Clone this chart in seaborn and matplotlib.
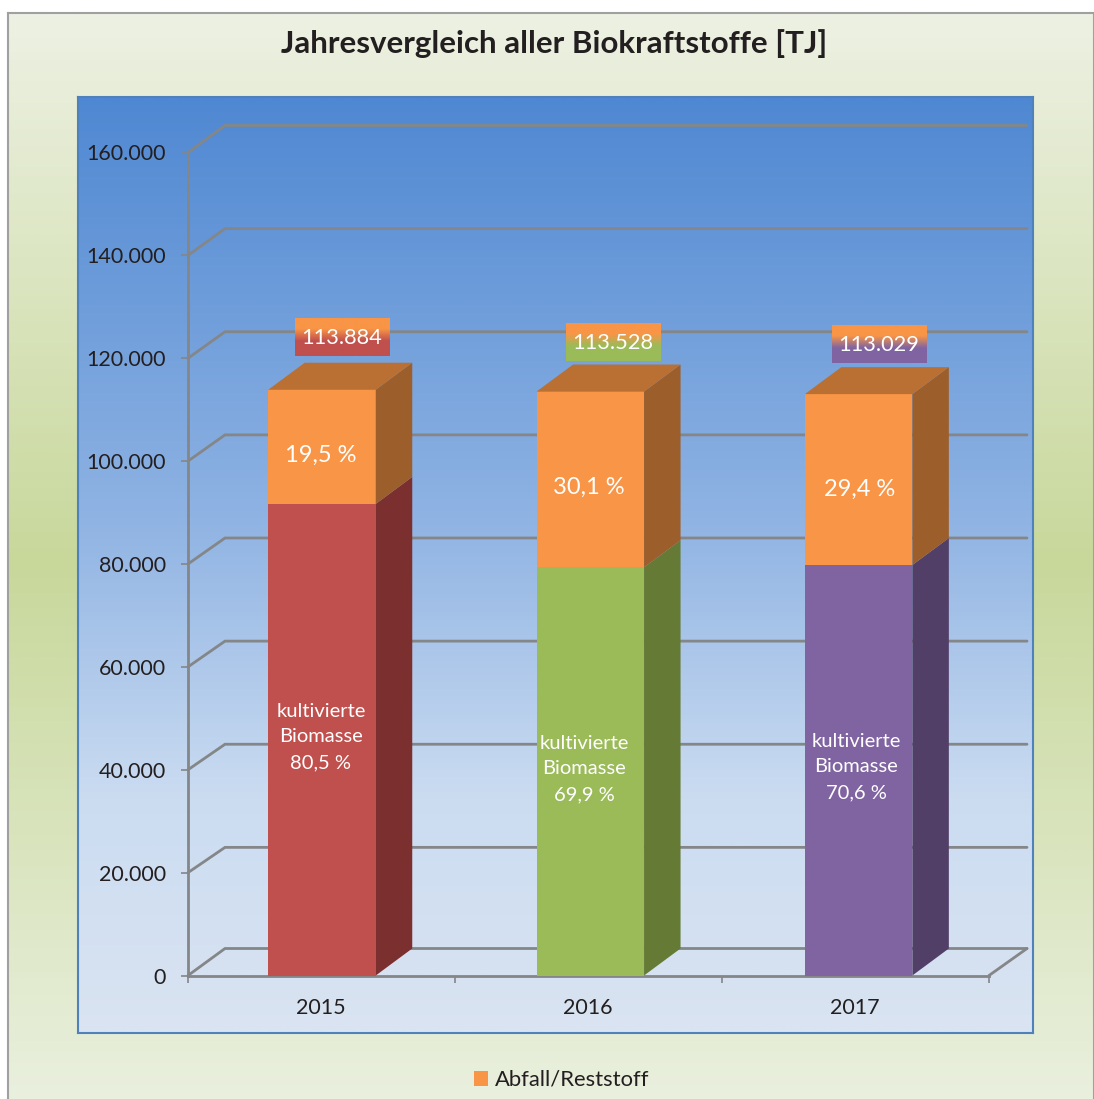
import numpy as np
import pandas as pd
import matplotlib
matplotlib.use("Agg")
import matplotlib.pyplot as plt
from matplotlib.colors import LinearSegmentedColormap
from matplotlib.patches import Patch
import seaborn as sns

# ---- data ----
years = ["2015", "2016", "2017"]
totals = [113884, 113528, 113029]
cultivated = [91680, 79360, 79800]
cultivated_pct = ["80,5 %", "69,9 %", "70,6 %"]
waste_pct = ["19,5 %", "30,1 %", "29,4 %"]
total_labels = ["113.884", "113.528", "113.029"]
y_ticks = [0, 20000, 40000, 60000, 80000, 100000, 120000, 140000, 160000]
y_tick_labels = ["0", "20.000", "40.000", "60.000", "80.000", "100.000", "120.000", "140.000", "160.000"]
title = "Jahresvergleich aller Biokraftstoffe [TJ]"
legend_label = "Abfall/Reststoff"

# ---- styles ----
W, H = 1094, 1099
sns.set_theme(style="white")
FONT = ["Lato", "DejaVu Sans"]
plt.rcParams["font.family"] = FONT
INK = "#231F20"
GRID = "#848688"
ORANGE = "#F99546"
ORANGE_TOP = "#BA7032"
ORANGE_SIDE = "#9C5E2A"
FRONT = ["#C0504D", "#9BBB59", "#8064A2"]
SIDE = ["#7B2F2E", "#647A35", "#523F68"]

fig = plt.figure(figsize=(W / 100, H / 100), dpi=100, facecolor="white")


def px_axes(x0, y0, x1, y1, **kw):
    return fig.add_axes([x0 / W, 1 - y1 / H, (x1 - x0) / W, (y1 - y0) / H], **kw)


def vgrad(ax, stops):
    cmap = LinearSegmentedColormap.from_list("g", stops)
    ax.imshow(np.linspace(0, 1, 512)[:, None], cmap=cmap, vmin=0, vmax=1,
              aspect="auto", extent=(0, 1, 0, 1), origin="upper")
    ax.set_xticks([])
    ax.set_yticks([])


def px_text(x, y, s, **kw):
    return fig.text(x / W, 1 - y / H, s, ha="center", va="center", zorder=20, **kw)


# outer chart area
bg = px_axes(8, 13, 1094, 1110, zorder=0)
vgrad(bg, [(0.0, "#EDF1E3"), (0.5, "#C8D89B"), (1.0, "#EAF0DF")])
for sp in bg.spines.values():
    sp.set_color("#A0A0A0")
    sp.set_linewidth(1.5)

# plot panel
panel = px_axes(78, 97, 1033, 1033, zorder=1)
vgrad(panel, [(0.0, "#4F88D2"), (0.45, "#8FB3E3"), (0.75, "#CBDCF1"), (1.0, "#DAE4F2")])
for sp in panel.spines.values():
    sp.set_color("#4F81BD")
    sp.set_linewidth(1.5)

# main data axes: pixel box of the axis lines
ax = px_axes(188, 152.5, 989, 975.5, zorder=2)
ax.patch.set_alpha(0)

df = pd.DataFrame({"Jahr": years, "total": totals, "kult": cultivated})
STEP = 268.3
BAR_W = 107.5 / STEP
sns.barplot(data=df, x="Jahr", y="total", color=ORANGE, saturation=1, width=BAR_W,
            errorbar=None, zorder=3, linewidth=0, ax=ax)
sns.barplot(data=df, x="Jahr", y="kult", hue="Jahr", palette=dict(zip(years, FRONT)),
            saturation=1, width=BAR_W, errorbar=None, dodge=False, legend=False,
            zorder=3.2, linewidth=0, ax=ax)

x_left = (188 - 322) / STEP
x_right = (989 - 322) / STEP
ax.set_xlim(x_left, x_right)
ax.set_ylim(0, 160000)

PX_Y = 160000 / 823
DX = 36.5 / STEP
DY = 27 * PX_Y
WALL_DX = 37 / STEP
END_DX = 38 / STEP

# walls: back gridlines with the diagonal link to the axis
for v in y_ticks:
    dy = DY if v == 0 else (25 + 2 * v / 160000) * PX_Y
    ax.plot([x_left, x_left + WALL_DX, x_right + END_DX], [v, v + dy, v + dy], color=GRID,
            lw=2.0, zorder=1, clip_on=False, solid_joinstyle="miter")
# floor
ax.plot([x_right, x_right + END_DX], [0, DY], color=GRID, lw=2.0, zorder=1, clip_on=False)

# bar depth faces
for i, (tot, kul) in enumerate(zip(totals, cultivated)):
    r = i + BAR_W / 2
    l = i - BAR_W / 2
    ax.fill([r, r + DX, r + DX, r], [0, DY, kul + DY, kul], color=SIDE[i], lw=0, zorder=3, clip_on=False)
    ax.fill([r, r + DX, r + DX, r], [kul, kul + DY, tot + DY, tot], color=ORANGE_SIDE, lw=0, zorder=3, clip_on=False)
    ax.fill([l, l + DX, r + DX, r], [tot, tot + DY, tot + DY, tot], color=ORANGE_TOP, lw=0, zorder=3, clip_on=False)

sns.despine(ax=ax)
for name in ("left", "bottom"):
    ax.spines[name].set_color(GRID)
    ax.spines[name].set_linewidth(2.0)
    ax.spines[name].set_zorder(2.5)

ax.set_yticks(y_ticks, y_tick_labels)
ax.set_xticks([(321 - 322) / STEP, (588 - 322) / STEP, (855 - 322) / STEP], years)
ax.set_xticks([x_left, (455 - 322) / STEP, (722 - 322) / STEP, x_right], minor=True)
ax.tick_params(axis="y", length=5, width=1.2, color=GRID, pad=11, labelsize=15.5, labelcolor=INK, left=True)
ax.tick_params(axis="x", which="major", length=0, pad=16, labelsize=15.5, labelcolor=INK)
ax.tick_params(axis="x", which="minor", length=5, width=1.2, color=GRID, bottom=True)
ax.set_xlabel("")
ax.set_ylabel("")
ax.grid(False)

# total label boxes
boxes = [(295, 318), (566, 323), (832, 325)]
for (bx, by), col, lab in zip(boxes, FRONT, total_labels):
    b = px_axes(bx, by, bx + 95, by + 38, zorder=4)
    vgrad(b, [(0.0, ORANGE), (0.28, ORANGE), (0.6, col), (1.0, col)])
    for sp in b.spines.values():
        sp.set_visible(False)
    px_text(bx + 47, by + 20, lab, color="white", fontsize=15.7)

# percentage labels
for (x, y), s in zip([(321, 455), (589, 487), (860, 489)], waste_pct):
    px_text(x, y, s, color="white", fontsize=17)
for (x, y), s in zip([(321, 737), (584, 769), (856, 767)], cultivated_pct):
    px_text(x, y, "kultivierte\nBiomasse\n" + s, color="white", fontsize=14.5, linespacing=1.6)

# title
px_text(554, 44, title, color=INK, fontsize=22.5, fontweight="bold")

# legend
leg = fig.legend(handles=[Patch(facecolor=ORANGE, edgecolor="none", label=legend_label)],
                 loc="center", bbox_to_anchor=(561.5 / W, 1 - 1080 / H), frameon=False,
                 fontsize=15.8, handlelength=0.65, handleheight=0.7, handletextpad=0.3,
                 labelcolor=INK)
leg.set_zorder(20)

fig.savefig("out.png", dpi=100)
